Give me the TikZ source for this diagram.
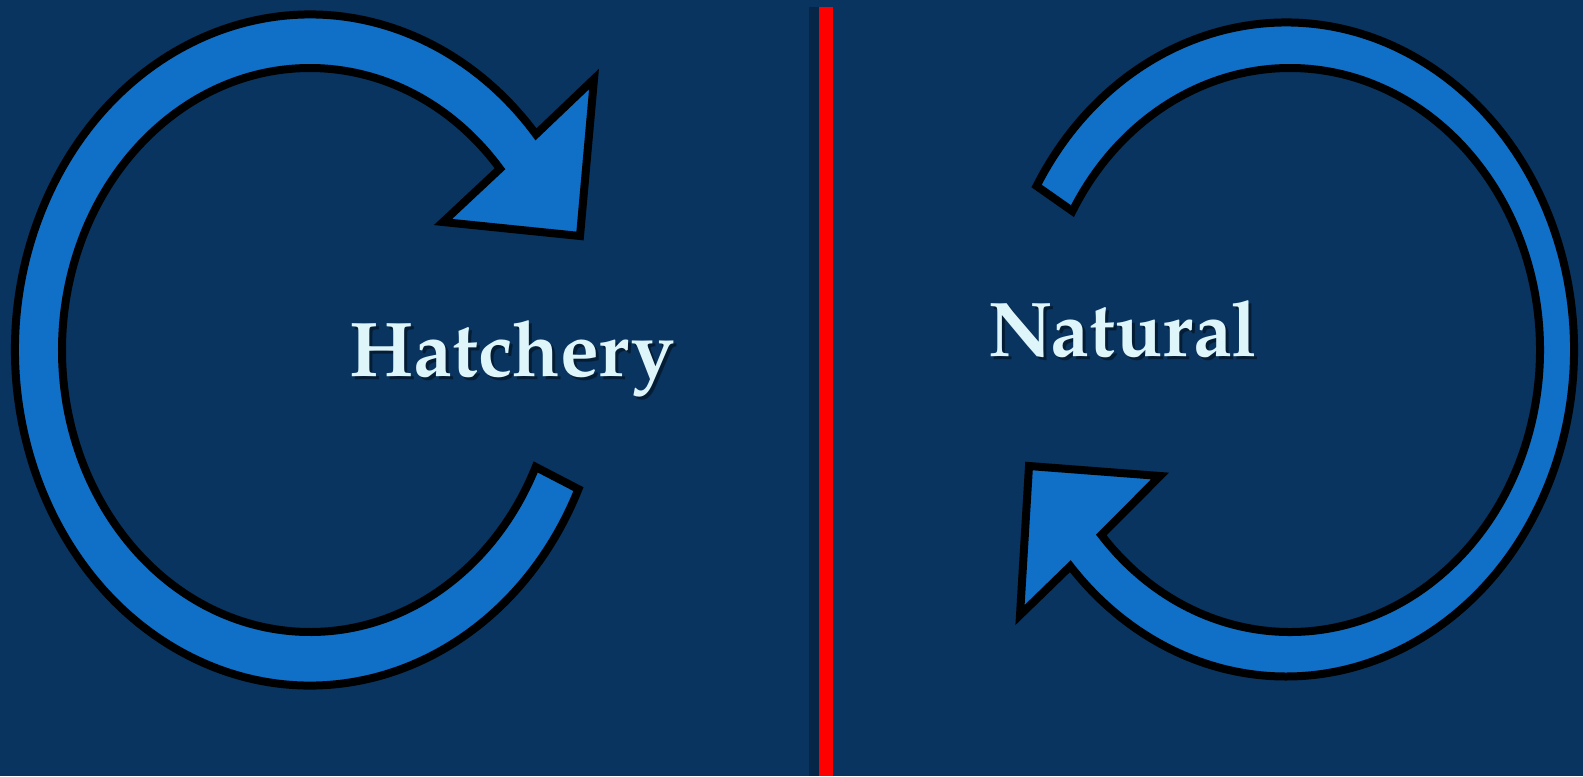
\documentclass[tikz,border=0pt]{standalone}
\usepackage{fontspec}
\setmainfont{TeX Gyre Pagella}
\usetikzlibrary{calc}
\definecolor{bgblue}{RGB}{9,52,95}
\definecolor{arrowblue}{RGB}{16,112,200}
\definecolor{textcyan}{RGB}{222,245,250}
\tikzset{
  ringarrow/.style={fill=arrowblue, draw=black, line width=4pt, line join=miter},
  label/.style={font=\fontsize{38.8}{46}\selectfont\bfseries, text=textcyan, inner sep=0pt, anchor=base},
  labelshadow/.style={font=\fontsize{38.8}{46}\selectfont\bfseries, text=black, opacity=0.45, inner sep=0pt, anchor=base}
}
\begin{document}
\begin{tikzpicture}[x=0.5pt,y=-0.5pt]
\useasboundingbox (0,0) rectangle (1583,776);
\fill[bgblue] (0,0) rectangle (1583,776);
% divider
\fill[black,opacity=0.25] (809,7) rectangle (819,776);
\fill[red] (819,7) rectangle (833,776);
% left arrow (clockwise)
\coordinate (lc) at (310,350);
\draw[ringarrow] ($(lc)+(24.5:295 and 335.5)$)
  arc[start angle=24.5, end angle=320, x radius=295, y radius=335.5]
  -- (594,79) -- (580,236) -- (443,222)
  -- ($(lc)+(320:248 and 282)$)
  arc[start angle=320, end angle=24.5, x radius=248, y radius=282] -- cycle;
% right arrow
\coordinate (rc) at (1286,349.5);
\coordinate (rci) at (1290,350);
\draw[ringarrow] ($(rc)+(210:288 and 327)$)
  arc[start angle=210, end angle=498.5, x radius=288, y radius=327]
  -- (1020,615) -- (1029,466) -- (1160,476)
  -- ($(rci)+(499:250 and 282)$)
  arc[start angle=499, end angle=209.5, x radius=250, y radius=282] -- cycle;
% labels
\node[labelshadow] (hs) at (515,379) {Hatchery};
\node[label] (h) at (512,376) {Hatchery};
\node[labelshadow] (ns) at (1126,359) {Natural};
\node[label] (n) at (1123,356) {Natural};
\end{tikzpicture}
\end{document}
